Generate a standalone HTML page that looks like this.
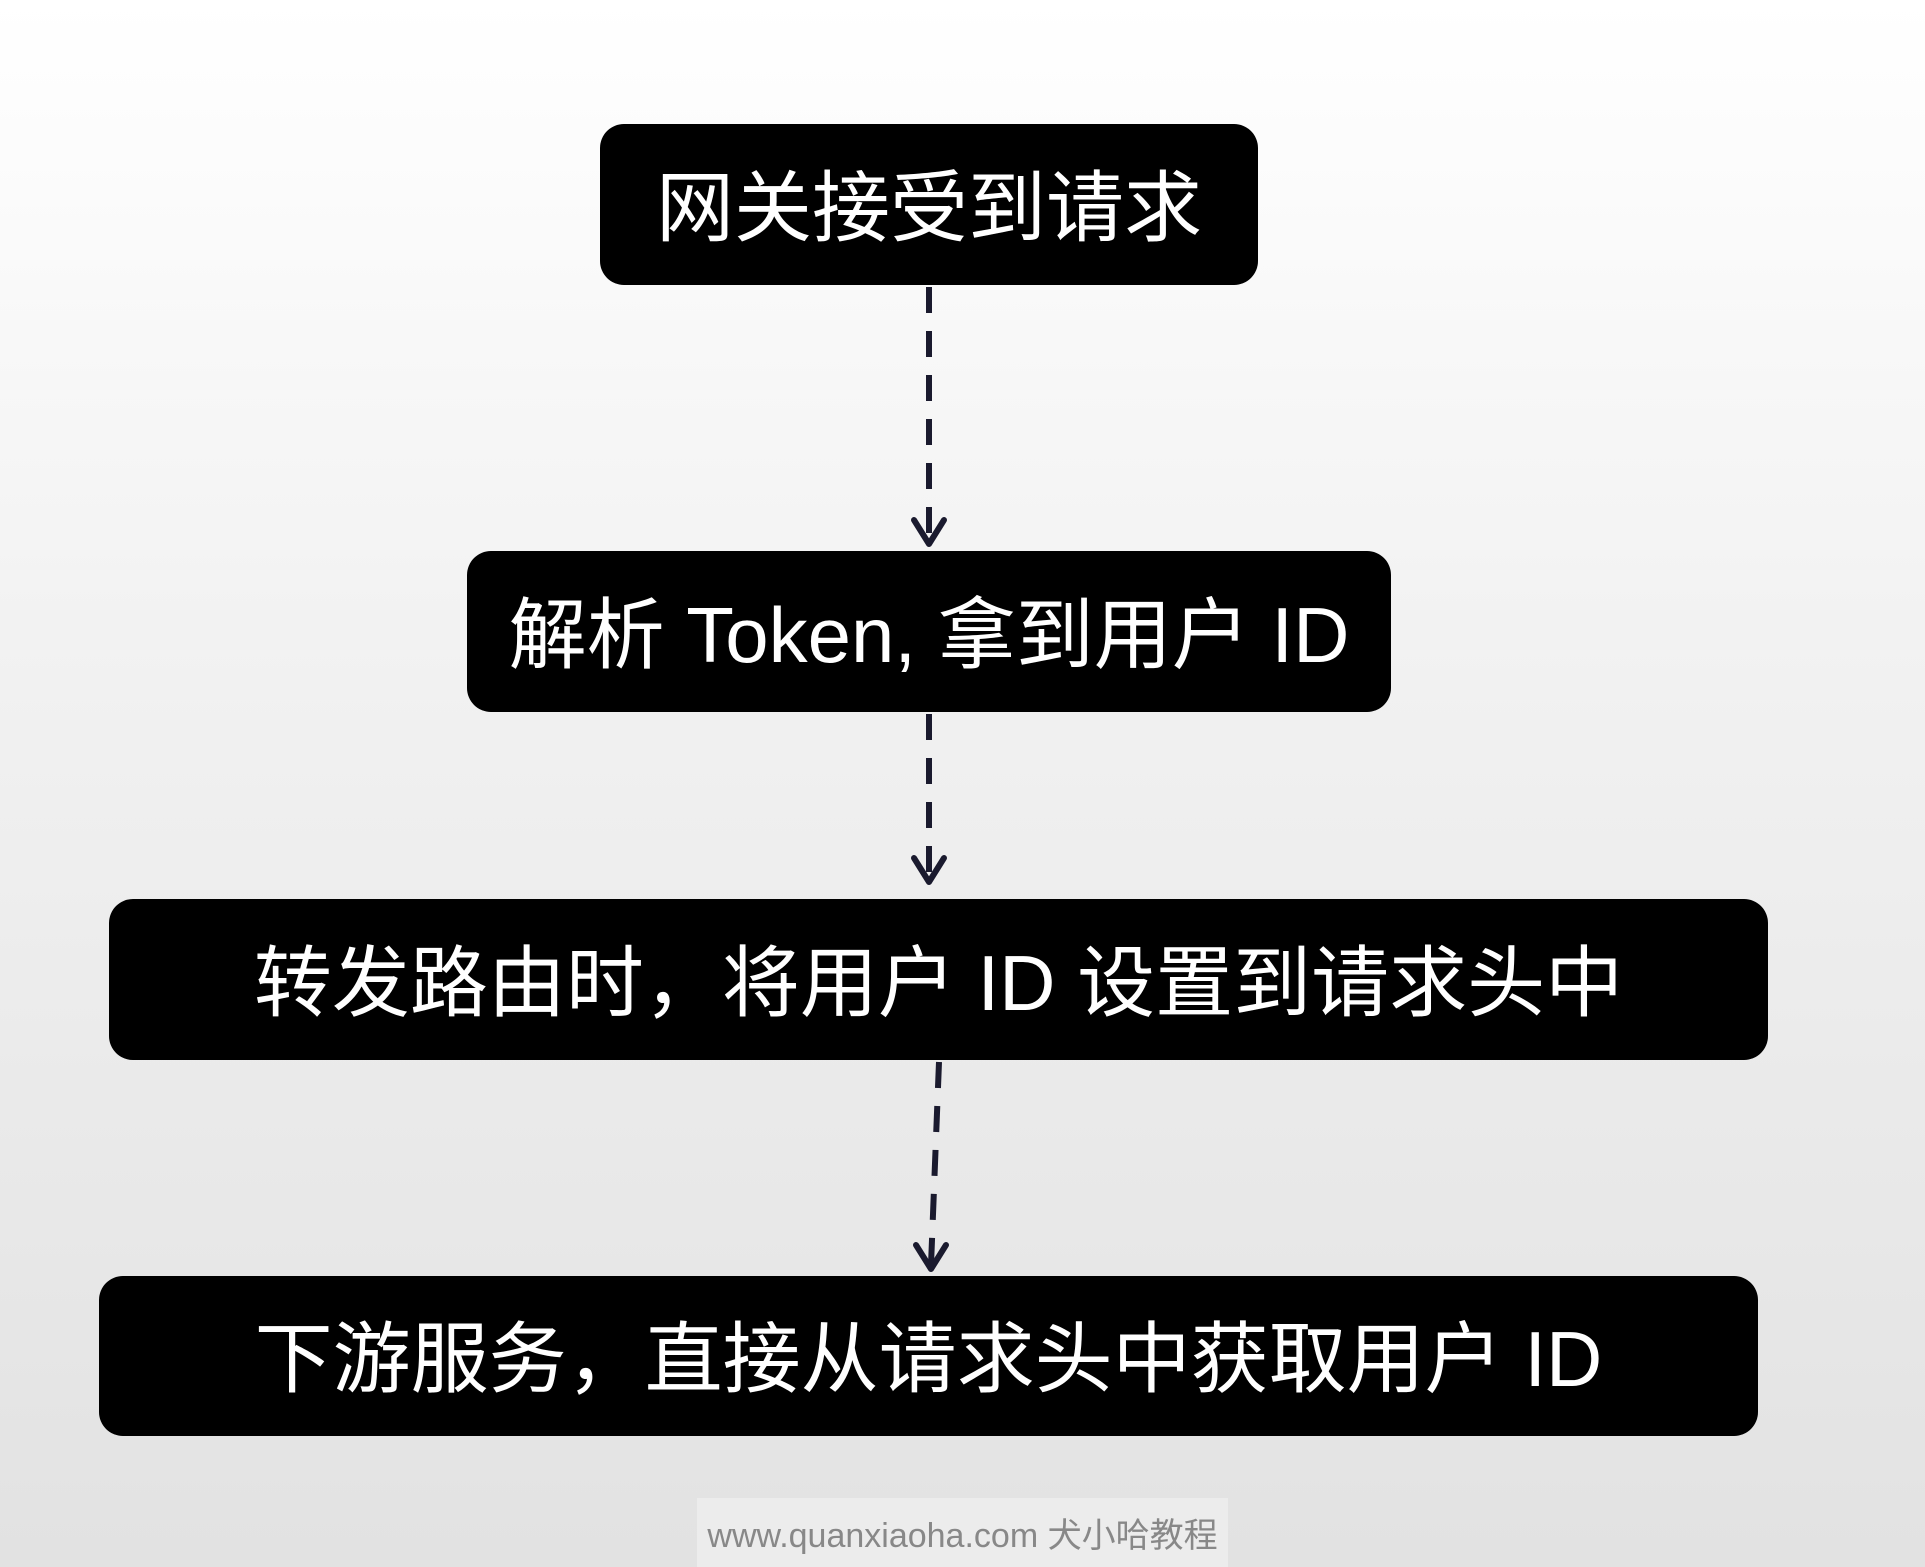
<!DOCTYPE html>
<html><head><meta charset="utf-8"><style>
html,body{margin:0;padding:0}
body{width:1925px;height:1567px;position:relative;overflow:hidden;background:linear-gradient(#ffffff 0%,#f2f2f2 40%,#e2e2e2 100%);font-family:"Liberation Sans","Noto Sans CJK SC",sans-serif}
.b{position:absolute;background:#000;color:#fff;border-radius:24px;display:flex;align-items:center;justify-content:center;font-size:78px;white-space:nowrap;box-sizing:border-box;padding-bottom:6px}
.wm{position:absolute;left:697px;top:1498px;width:531px;height:69px;background:#ececec;color:#888;font-size:34px;display:flex;align-items:center;justify-content:center}
</style></head><body>
<div class="b" style="left:600px;top:124px;width:658px;height:161px">网关接受到请求</div>
<div class="b" style="left:467px;top:551px;width:924px;height:161px">解析 Token, 拿到用户 ID</div>
<div class="b" style="left:109px;top:899px;width:1659px;height:161px">转发路由时，将用户 ID 设置到请求头中</div>
<div class="b" style="left:99px;top:1276px;width:1659px;height:160px">下游服务，直接从请求头中获取用户 ID</div>
<svg width="1925" height="1567" style="position:absolute;left:0;top:0">
<g stroke="#1a1a2e" stroke-width="6" fill="none">
<line x1="929" y1="287" x2="929" y2="540" stroke-dasharray="26 18"/>
<polyline points="914,520 929,544 944,520" stroke-linejoin="round" stroke-linecap="round"/>
<line x1="929" y1="714" x2="929" y2="878" stroke-dasharray="26 18"/>
<polyline points="914,858 929,882 944,858" stroke-linejoin="round" stroke-linecap="round"/>
<line x1="939" y1="1062" x2="931" y2="1265" stroke-dasharray="26 18"/>
<polyline points="916,1245 931,1269 946,1245" stroke-linejoin="round" stroke-linecap="round"/>
</g></svg>
<div class="wm">www.quanxiaoha.com 犬小哈教程</div>
</body></html>
